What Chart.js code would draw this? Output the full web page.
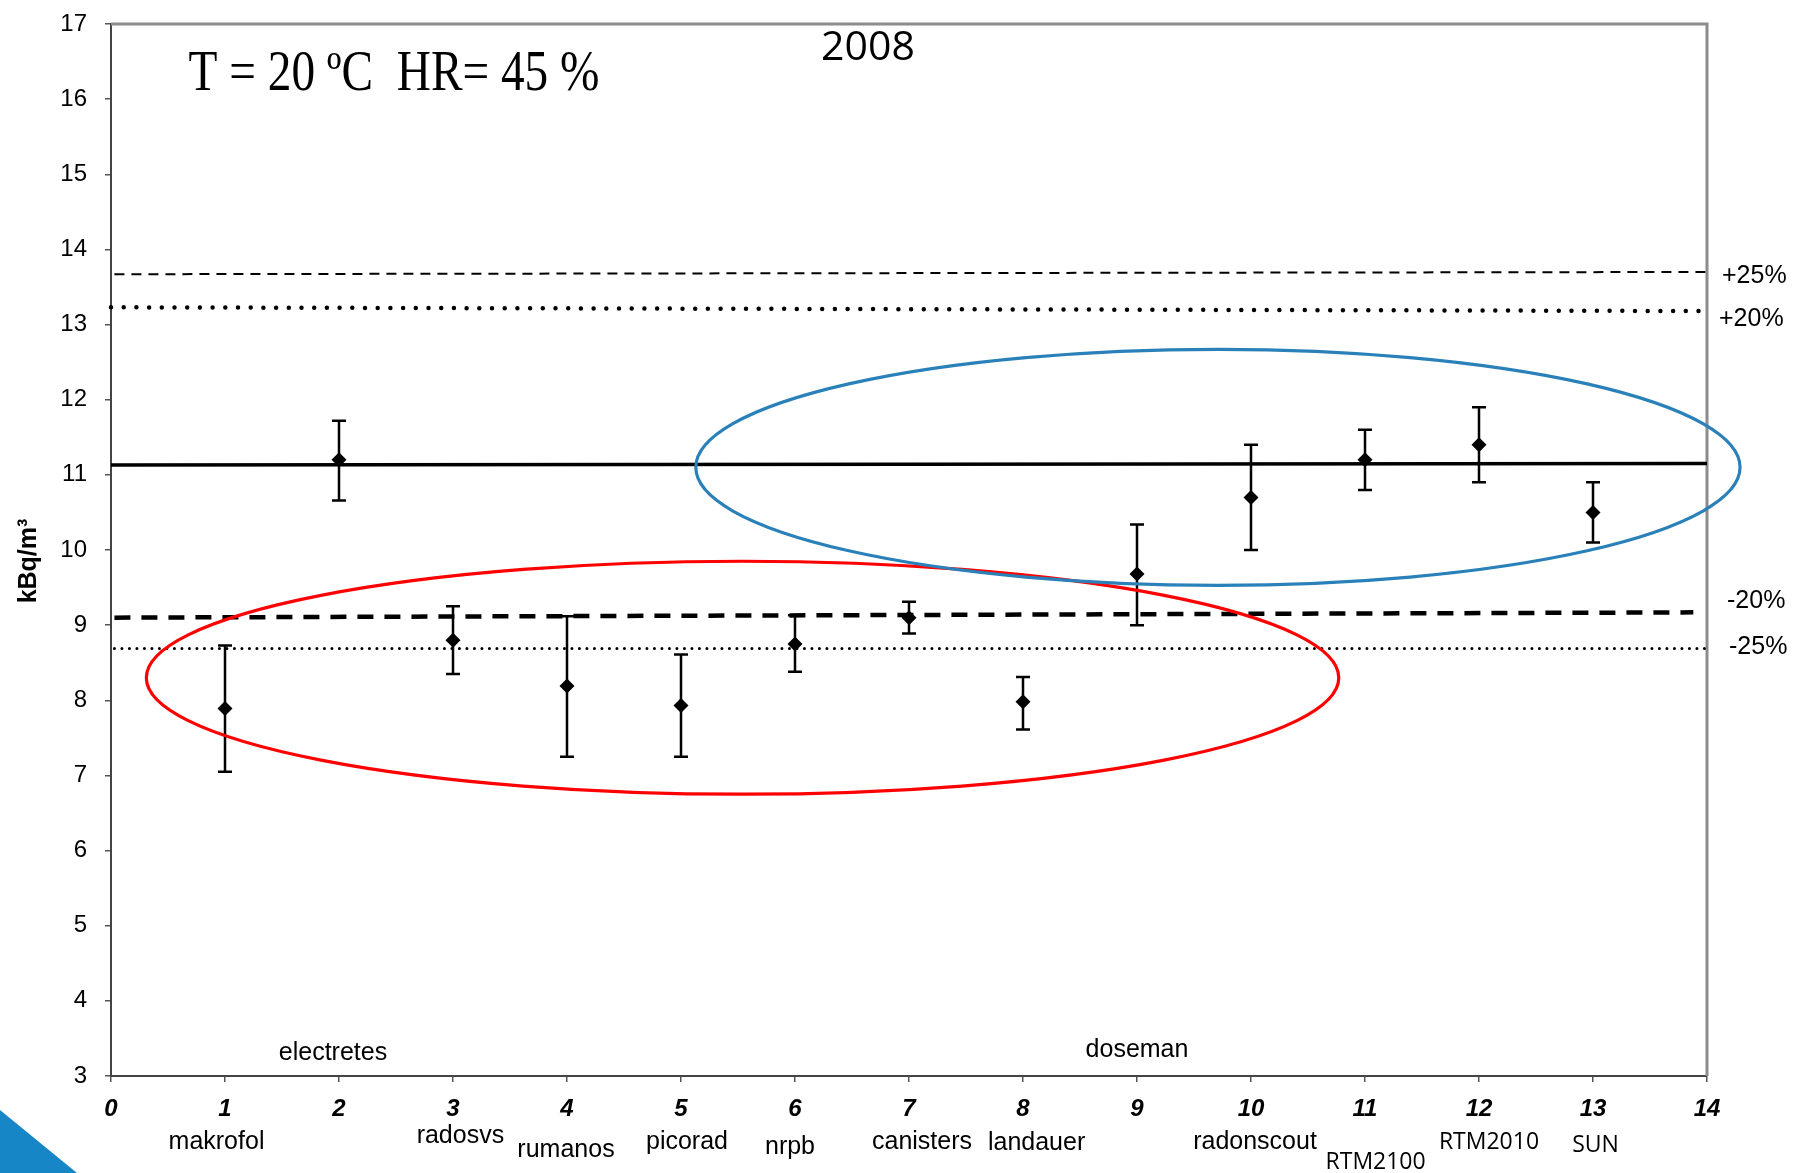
<!DOCTYPE html>
<html lang="es">
<head>
  <meta charset="UTF-8">
  <title>2008 - T = 20 ºC HR= 45 %</title>
  <script src="https://cdn.jsdelivr.net/npm/chart.js@4"></script>
  <style>
    html, body { margin: 0; padding: 0; background: #fff; }
    canvas { display: block; }
  </style>
</head>
<body>
  <canvas id="chart" width="1796" height="1173"></canvas>
  <script>
    // instruments: position on the x axis, name, mean and error bar limits (kBq/m3)
    const positions = [1, 2, 3, 4, 5, 6, 7, 8, 9, 10, 11, 12, 13];
    const instruments = ['makrofol', 'electretes', 'radosvs', 'rumanos', 'picorad', 'nrpb', 'canisters',
                         'landauer', 'doseman', 'radonscout', 'RTM2100', 'RTM2010', 'SUN'];
    const means = [7.89, 11.20, 8.80, 8.19, 7.93, 8.75, 9.10, 7.98, 9.68, 10.70, 11.20, 11.40, 10.50];
    const upper = [8.73, 11.72, 9.25, 9.12, 8.61, 9.13, 9.31, 8.31, 10.34, 11.40, 11.60, 11.90, 10.90];
    const lower = [7.05, 10.66, 8.35, 7.25, 7.25, 8.38, 8.89, 7.61, 9.00, 10.00, 10.80, 10.90, 10.10];

    // reference value and tolerance bands
    const refNames = ['', '+25%', '+20%', '-20%', '-25%'];
    const refStartX = [0, 0.03, 0, 0.03, 0.03];
    const refEndX = [14, 14.02, 14, 13.88, 14];
    const refStartY = [11.13, 13.67, 13.23, 9.10, 8.69];
    const refEndY = [11.15, 13.70, 13.18, 9.17, 8.69];

    // the two groups circled on the chart (centre and half axes, in data units)
    const groupCx = [5.54, 9.71];
    const groupCy = [8.30, 11.10];
    const groupRx = [5.23, 4.58];
    const groupRy = [1.55, 1.57];

    const yMin = 3, yMax = 17, xMin = 0, xMax = 14;

    // styling, kept apart from the data
    const refWidth = [3.5, 2, 4.5, 4.5, 3];
    const refDash = [[], [10, 7], [0, 12.7], [16, 11], [0, 7.5]];
    const refLabelDy = [0, 4, 8, -11, -1];
    const refLabelDx = [0, 15, 12, 20, 22];
    const groupColors = ['#ff0000', '#2a80b9'];
    const labelDx = [-8.5, -6, 7.4, -1, 6, -5, 13, 13.6, 0, 4, 10.6, 10, 2.5];
    const labelY = [1142, 1053, 1136, 1150, 1142, 1147.5, 1142, 1143, 1050, 1142, 1162, 1142, 1145];
    const calibriLike = ['RTM2100', 'RTM2010', 'SUN'];

    const refDatasets = refNames.map((name, i) => ({
      type: 'line',
      label: name || 'referencia',
      data: [{x: refStartX[i], y: refStartY[i]}, {x: refEndX[i], y: refEndY[i]}],
      borderColor: '#000',
      borderWidth: refWidth[i],
      borderDash: refDash[i],
      borderCapStyle: refDash[i].length && refDash[i][0] === 0 ? 'round' : 'butt',
      pointRadius: 0,
      fill: false,
      clip: false
    }));

    const decorations = {
      id: 'decorations',
      beforeDatasetsDraw(chart) {
        const {ctx, chartArea: a, scales: {x, y}} = chart;
        ctx.save();
        // top and right edges of the plot frame
        ctx.strokeStyle = '#8c8c8c';
        ctx.lineWidth = 3;
        ctx.beginPath();
        ctx.moveTo(a.left, a.top);
        ctx.lineTo(a.right, a.top);
        ctx.lineTo(a.right, a.bottom);
        ctx.stroke();

        // error bars
        ctx.strokeStyle = '#000';
        ctx.lineWidth = 2.5;
        positions.forEach((p, i) => {
          const px = x.getPixelForValue(p);
          const top = y.getPixelForValue(upper[i]);
          const bot = y.getPixelForValue(lower[i]);
          ctx.beginPath();
          ctx.moveTo(px, top); ctx.lineTo(px, bot);
          ctx.moveTo(px - 7, top); ctx.lineTo(px + 7, top);
          ctx.moveTo(px - 7, bot); ctx.lineTo(px + 7, bot);
          ctx.stroke();
        });
        ctx.restore();
      },
      afterDatasetsDraw(chart) {
        const {ctx, scales: {x, y}} = chart;
        ctx.save();
        ctx.lineWidth = 3.2;
        groupCx.forEach((cx, i) => {
          const px = x.getPixelForValue(cx);
          const py = y.getPixelForValue(groupCy[i]);
          const rx = x.getPixelForValue(cx + groupRx[i]) - px;
          const ry = py - y.getPixelForValue(groupCy[i] + groupRy[i]);
          ctx.strokeStyle = groupColors[i];
          ctx.beginPath();
          ctx.ellipse(px, py, rx, ry, 0, 0, Math.PI * 2);
          ctx.stroke();
        });
        ctx.restore();
      },
      afterDraw(chart) {
        const {ctx, scales: {x, y}} = chart;
        ctx.save();
        ctx.fillStyle = '#000';
        ctx.textBaseline = 'middle';
        ctx.textAlign = 'center';

        // instrument names
        instruments.forEach((name, i) => {
          ctx.font = calibriLike.includes(name) ? '23px "Open Sans"' : '25px "Liberation Sans"';
          ctx.fillText(name, x.getPixelForValue(positions[i]) + labelDx[i], labelY[i]);
        });

        // tolerance labels on the right
        ctx.textAlign = 'left';
        ctx.font = '25px "Liberation Sans"';
        refNames.forEach((name, i) => {
          if (!name) return;
          ctx.fillText(name, x.getPixelForValue(xMax) + refLabelDx[i], y.getPixelForValue(refEndY[i]) + refLabelDy[i]);
        });

        // headings
        ctx.textAlign = 'center';
        ctx.font = '41px "Open Sans"';
        ctx.fillText('2008', 868, 48);
        ctx.font = '56px "Liberation Serif"';
        ctx.fillText('T = 20 ºC  HR= 45 %', 394, 75, 411);

        // y axis title
        ctx.font = 'bold 25px "Liberation Sans"';
        ctx.translate(29, 561);
        ctx.rotate(-Math.PI / 2);
        ctx.fillText('kBq/m³', 0, 0);
        ctx.restore();

        // blue corner mark
        ctx.save();
        ctx.fillStyle = '#1786c6';
        ctx.beginPath();
        ctx.moveTo(0, 1110);
        ctx.lineTo(77, 1173);
        ctx.lineTo(0, 1173);
        ctx.closePath();
        ctx.fill();
        ctx.restore();
      }
    };

    new Chart(document.getElementById('chart'), {
      type: 'scatter',
      data: {
        datasets: [
          {
            label: 'kBq/m³',
            data: positions.map((p, i) => ({x: p, y: means[i]})),
            pointStyle: 'rectRot',
            pointRadius: 7.5,
            backgroundColor: '#000',
            borderColor: '#000',
            borderWidth: 0,
            showLine: false
          },
          ...refDatasets
        ]
      },
      options: {
        responsive: false,
        devicePixelRatio: 1,
        animation: false,
        layout: { autoPadding: false, padding: { left: 0, right: 89, top: 22, bottom: 0 } },
        plugins: { legend: { display: false }, tooltip: { enabled: false } },
        scales: {
          x: {
            type: 'linear',
            min: xMin,
            max: xMax,
            afterFit(scale) { scale.height = 97; },
            border: { display: true, color: '#444', width: 2 },
            grid: { drawOnChartArea: false, drawTicks: true, tickLength: 6, color: '#555', lineWidth: 1.5 },
            ticks: {
              stepSize: 1,
              autoSkip: false,
              maxRotation: 0,
              padding: 13,
              color: '#000',
              font: { family: 'Liberation Sans', size: 24, weight: 'bold', style: 'italic' }
            }
          },
          y: {
            min: yMin,
            max: yMax,
            afterFit(scale) { scale.width = 111; },
            border: { display: true, color: '#444', width: 2 },
            grid: { drawOnChartArea: false, drawTicks: true, tickLength: 6, color: '#555', lineWidth: 1.5 },
            ticks: {
              stepSize: 1,
              autoSkip: false,
              padding: 18,
              color: '#000',
              font: { family: 'Liberation Sans', size: 24, lineHeight: 0.5 }
            }
          }
        }
      },
      plugins: [decorations]
    });
  </script>
</body>
</html>
